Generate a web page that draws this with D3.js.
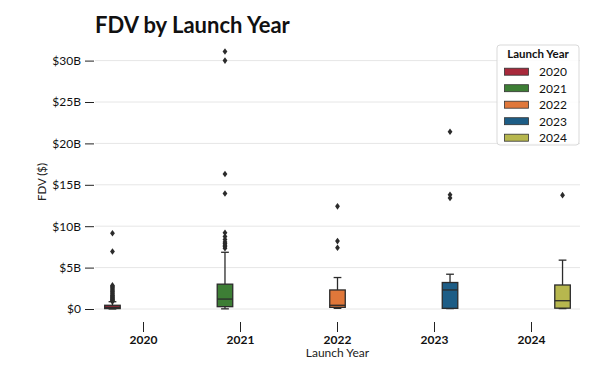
<!DOCTYPE html>
<html>
<head>
<meta charset="utf-8">
<script src="https://cdn.jsdelivr.net/npm/d3@7"></script>
<style>
  body { margin: 0; background: #fff; }
  svg { font-family: Lato, "Open Sans", sans-serif; }
</style>
</head>
<body>
<div id="chart"></div>
<script>
// data, in billions of dollars
var years = ["2020", "2021", "2022", "2023", "2024"];
var colors = ["#a8293b", "#3d7e35", "#e0773a", "#1d5d86", "#b7b74e"];
var whiskerLow = [0.0, 0.02, 0.08, 0.05, 0.05];
var q1 = [0.05, 0.28, 0.2, 0.08, 0.1];
var medians = [0.2, 1.2, 0.45, 2.3, 1.0];
var q3 = [0.45, 3.0, 2.3, 3.2, 2.9];
var whiskerHigh = [0.88, 6.85, 3.8, 4.2, 5.9];
var outliers = [
  [0.92, 1.0, 1.08, 1.15, 1.25, 1.33, 1.42, 1.5, 1.62, 1.7, 1.85, 1.95, 2.1, 2.2, 2.35, 2.5, 2.62, 2.75, 2.85, 6.95, 9.15],
  [7.35, 7.55, 7.7, 7.9, 8.1, 8.4, 8.75, 9.2, 13.95, 16.3, 30.0, 31.1],
  [7.4, 8.2, 12.4],
  [13.4, 13.8, 21.4],
  [13.75]
];
var yTicks = [0, 5, 10, 15, 20, 25, 30];
var yTickLabels = ["$0", "$5B", "$10B", "$15B", "$20B", "$25B", "$30B"];

//Width and height
var w = 600;
var h = 373;

var svg = d3.select("#chart")
  .append("svg")
  .attr("width", w)
  .attr("height", h);

var xScale = d3.scaleBand()
  .domain(years)
  .range([95, 580]);

// seaborn style hue dodge inside each category
var bw = xScale.bandwidth();
var hueScale = d3.scaleBand()
  .domain(years)
  .range([-0.4 * bw, 0.4 * bw]);

var yScale = d3.scaleLinear()
  .domain([0, 30])
  .range([309, 60.6]);

//gridlines
svg.append("g")
  .selectAll("line")
  .data(yTicks)
  .enter()
  .append("line")
  .attr("x1", 95)
  .attr("x2", 580)
  .attr("y1", d => yScale(d))
  .attr("y2", d => yScale(d))
  .attr("stroke", "#e6e6e6")
  .attr("stroke-width", 1);

//Y axis
var yAxis = d3.axisLeft(yScale)
  .tickValues(yTicks)
  .tickFormat((d, i) => yTickLabels[i])
  .tickSize(9)
  .tickPadding(4);

var yg = svg.append("g")
  .attr("transform", "translate(94,0)")
  .call(yAxis);
yg.select(".domain").remove();
yg.selectAll("line").attr("stroke", "#222");
yg.selectAll("text")
  .attr("font-size", 12)
  .attr("fill", "#111")
  .attr("font-family", "Lato");

//X axis
var xAxis = d3.axisBottom(xScale)
  .tickSize(10)
  .tickPadding(3);

var xg = svg.append("g")
  .attr("transform", "translate(0,322)")
  .call(xAxis);
xg.select(".domain").remove();
xg.selectAll("line").attr("stroke", "#222");
xg.selectAll("text")
  .attr("font-size", 12)
  .attr("font-weight", "bold")
  .attr("fill", "#111")
  .attr("font-family", "Lato");

//axis titles
svg.append("text")
  .attr("text-anchor", "middle")
  .attr("transform", "translate(46,182)rotate(-90)")
  .attr("font-size", 11.5)
  .attr("fill", "#222")
  .text("FDV ($)");

svg.append("text")
  .attr("text-anchor", "middle")
  .attr("x", xScale("2022") + bw / 2)
  .attr("y", 357)
  .attr("font-size", 12)
  .attr("fill", "#222")
  .text("Launch Year");

//title
svg.append("text")
  .attr("x", 95)
  .attr("y", 33)
  .attr("font-size", 22)
  .attr("font-weight", "bold")
  .attr("fill", "#111")
  .text("FDV by Launch Year");

//boxes
var stroke = "#2b2b2b";
var boxW = hueScale.bandwidth();
var capW = boxW / 2;

function cx(i) {
  return xScale(years[i]) + bw / 2 + hueScale(years[i]) + hueScale.bandwidth() / 2;
}

var boxes = svg.append("g")
  .selectAll("g")
  .data(years)
  .enter()
  .append("g");

// whiskers
boxes.append("line")
  .attr("x1", (d, i) => cx(i))
  .attr("x2", (d, i) => cx(i))
  .attr("y1", (d, i) => yScale(q3[i]))
  .attr("y2", (d, i) => yScale(whiskerHigh[i]))
  .attr("stroke", stroke)
  .attr("stroke-width", 1.3);
boxes.append("line")
  .attr("x1", (d, i) => cx(i))
  .attr("x2", (d, i) => cx(i))
  .attr("y1", (d, i) => yScale(q1[i]))
  .attr("y2", (d, i) => yScale(whiskerLow[i]))
  .attr("stroke", stroke)
  .attr("stroke-width", 1.3);
// caps
boxes.append("line")
  .attr("x1", (d, i) => cx(i) - capW / 2)
  .attr("x2", (d, i) => cx(i) + capW / 2)
  .attr("y1", (d, i) => yScale(whiskerHigh[i]))
  .attr("y2", (d, i) => yScale(whiskerHigh[i]))
  .attr("stroke", stroke)
  .attr("stroke-width", 1.3);
boxes.append("line")
  .attr("x1", (d, i) => cx(i) - capW / 2)
  .attr("x2", (d, i) => cx(i) + capW / 2)
  .attr("y1", (d, i) => yScale(whiskerLow[i]))
  .attr("y2", (d, i) => yScale(whiskerLow[i]))
  .attr("stroke", stroke)
  .attr("stroke-width", 1.3);
// box
boxes.append("rect")
  .attr("x", (d, i) => cx(i) - boxW / 2)
  .attr("width", boxW)
  .attr("y", (d, i) => yScale(q3[i]))
  .attr("height", (d, i) => yScale(q1[i]) - yScale(q3[i]))
  .attr("fill", (d, i) => colors[i])
  .attr("stroke", stroke)
  .attr("stroke-width", 1.3);
// median
boxes.append("line")
  .attr("x1", (d, i) => cx(i) - boxW / 2)
  .attr("x2", (d, i) => cx(i) + boxW / 2)
  .attr("y1", (d, i) => yScale(medians[i]))
  .attr("y2", (d, i) => yScale(medians[i]))
  .attr("stroke", stroke)
  .attr("stroke-width", 1.3);

// outliers as diamonds
var diamond = "M0,-3.3L2.4,0L0,3.3L-2.4,0Z";
boxes.each(function(d, i) {
  d3.select(this).selectAll("path")
    .data(outliers[i])
    .enter()
    .append("path")
    .attr("d", diamond)
    .attr("transform", v => "translate(" + cx(i) + "," + yScale(v) + ")")
    .attr("fill", "#2b2b2b");
});

//legend
var legend = svg.append("g")
  .attr("transform", "translate(497,45)");

legend.append("rect")
  .attr("width", 82)
  .attr("height", 100)
  .attr("rx", 3)
  .attr("fill", "#fff")
  .attr("fill-opacity", 0.85)
  .attr("stroke", "#d9d9d9");

legend.append("text")
  .attr("x", 41)
  .attr("y", 13)
  .attr("text-anchor", "middle")
  .attr("font-size", 11.5)
  .attr("font-weight", "bold")
  .attr("fill", "#111")
  .text("Launch Year");

var items = legend.selectAll("g.item")
  .data(years)
  .enter()
  .append("g")
  .attr("class", "item")
  .attr("transform", (d, i) => "translate(0," + (26.7 + i * 16.5) + ")");

items.append("rect")
  .attr("x", 7.5)
  .attr("y", -3.5)
  .attr("width", 24)
  .attr("height", 7)
  .attr("fill", (d, i) => colors[i])
  .attr("stroke", "#333")
  .attr("stroke-width", 0.8);

items.append("text")
  .attr("x", 42)
  .attr("y", 4.5)
  .attr("font-size", 12)
  .attr("fill", "#111")
  .text(d => d);
</script>
</body>
</html>
